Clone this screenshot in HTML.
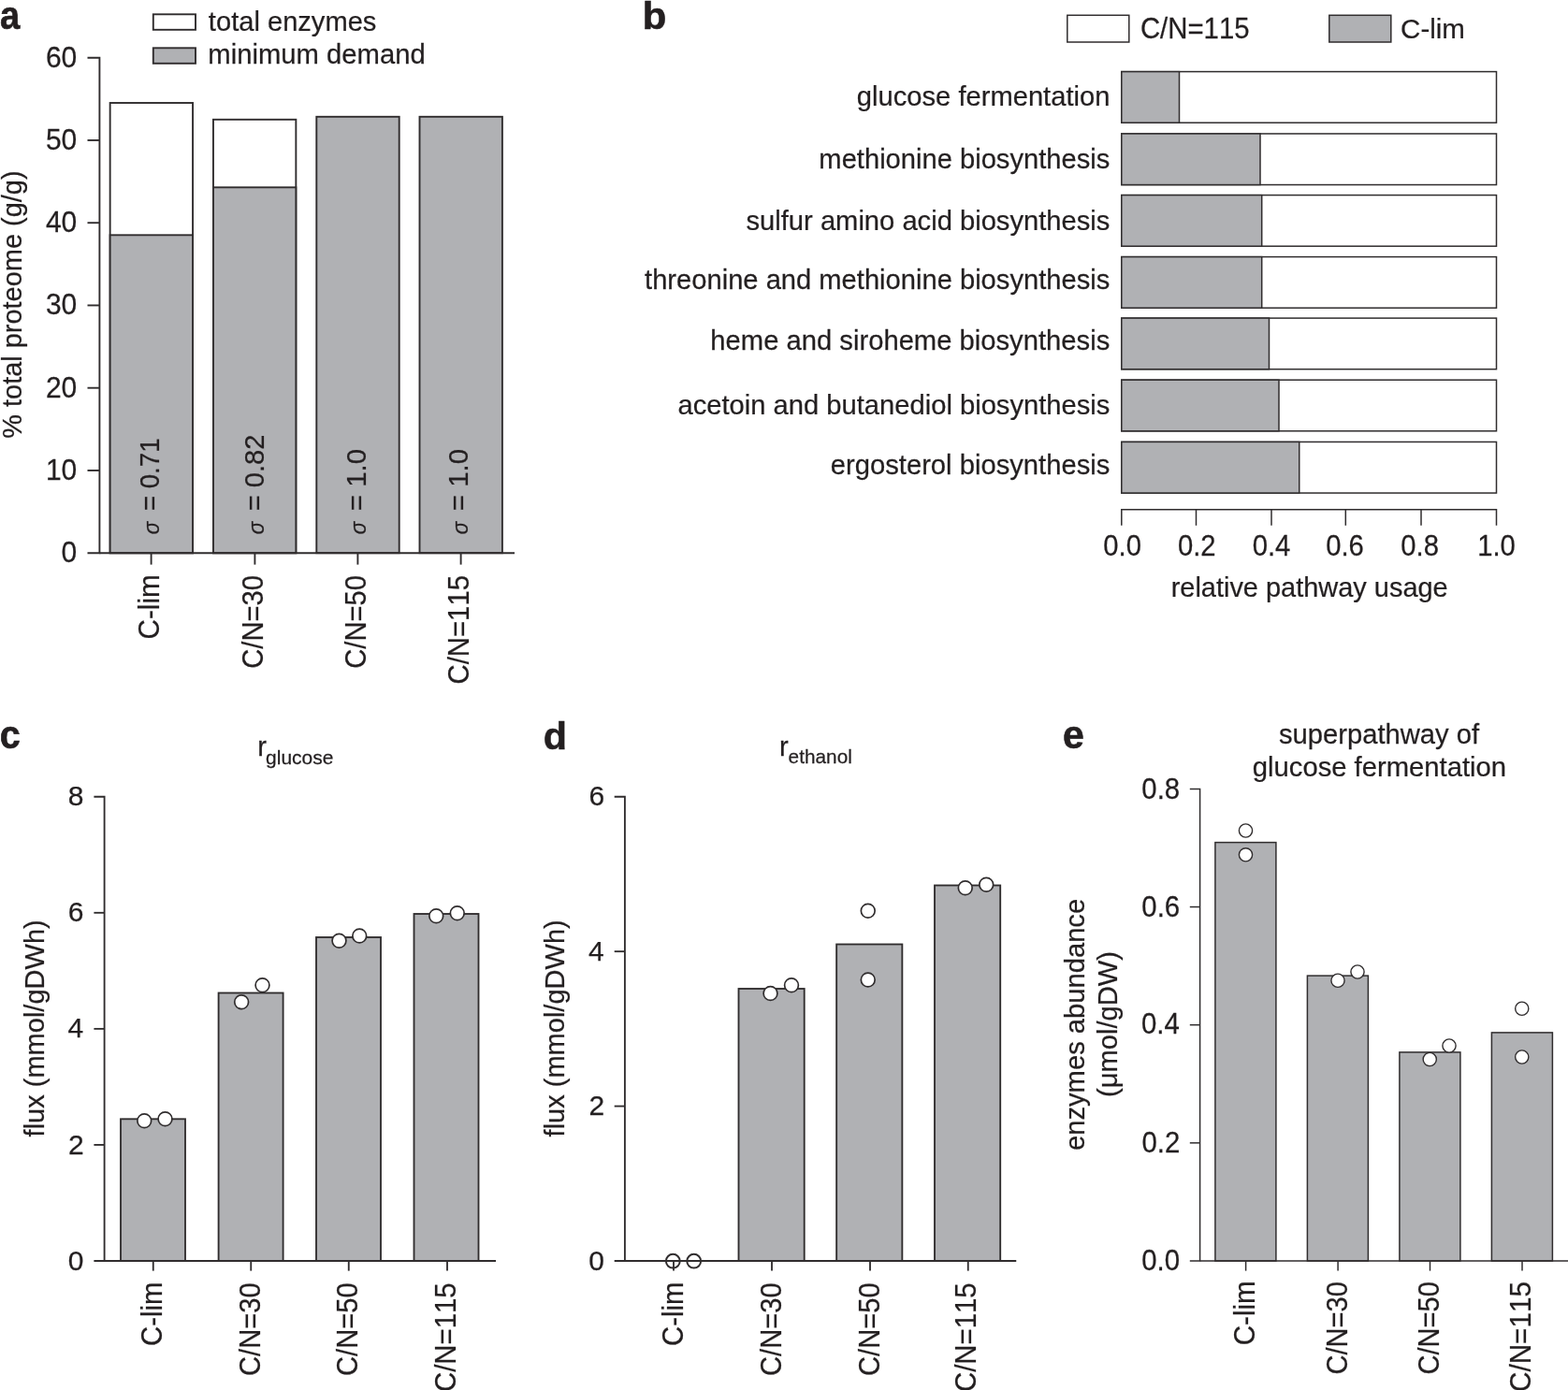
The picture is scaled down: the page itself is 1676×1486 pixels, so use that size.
<!DOCTYPE html>
<html lang="en"><head><meta charset="utf-8"><title>Figure</title>
<style>
html,body{margin:0;padding:0;background:#fff;}
body{width:1676px;height:1486px;overflow:hidden;}
svg{display:block;}
text{font-family:"Liberation Sans",sans-serif;font-kerning:none;white-space:pre;stroke:#231f20;stroke-width:0.25px;}
</style></head><body>
<svg width="1676" height="1486" viewBox="0 0 1676 1486">
<rect x="0" y="0" width="1676" height="1486" fill="#ffffff"/>
<text transform="translate(-0.02,31.15) scale(0.9332,1.0300)" font-size="41" font-weight="bold" fill="#231f20" style="stroke-width:0.6px">a</text>
<text transform="translate(686.74,30.80) scale(1.0213,1.0000)" font-size="41" font-weight="bold" fill="#231f20" style="stroke-width:0.6px">b</text>
<text transform="translate(-0.20,800.30) scale(0.9650,1.0320)" font-size="41" font-weight="bold" fill="#231f20" style="stroke-width:0.6px">c</text>
<text transform="translate(580.86,800.90) scale(1.0068,1.0100)" font-size="41" font-weight="bold" fill="#231f20" style="stroke-width:0.6px">d</text>
<text transform="translate(1135.95,800.30) scale(1.0000,1.0240)" font-size="41" font-weight="bold" fill="#231f20" style="stroke-width:0.6px">e</text>
<rect x="117.65" y="110.00" width="88.40" height="481.20" fill="#fff" stroke="#302d2e" stroke-width="1.9"/>
<rect x="117.65" y="251.30" width="88.40" height="339.90" fill="#b0b1b4" stroke="#302d2e" stroke-width="1.9"/>
<rect x="227.95" y="127.80" width="88.40" height="463.40" fill="#fff" stroke="#302d2e" stroke-width="1.9"/>
<rect x="227.95" y="200.30" width="88.40" height="390.90" fill="#b0b1b4" stroke="#302d2e" stroke-width="1.9"/>
<rect x="338.30" y="124.80" width="88.40" height="466.40" fill="#b0b1b4" stroke="#302d2e" stroke-width="1.9"/>
<rect x="448.50" y="124.80" width="88.40" height="466.40" fill="#b0b1b4" stroke="#302d2e" stroke-width="1.9"/>
<path d="M93.50 61.70 H106.40 V591.20 H93.50" fill="none" stroke="#302d2e" stroke-width="1.9" stroke-linejoin="miter"/>
<line x1="106.40" y1="591.20" x2="550.00" y2="591.20" stroke="#302d2e" stroke-width="1.9" stroke-linecap="butt"/>
<line x1="93.50" y1="502.95" x2="106.40" y2="502.95" stroke="#302d2e" stroke-width="1.9" stroke-linecap="butt"/>
<line x1="93.50" y1="414.70" x2="106.40" y2="414.70" stroke="#302d2e" stroke-width="1.9" stroke-linecap="butt"/>
<line x1="93.50" y1="326.45" x2="106.40" y2="326.45" stroke="#302d2e" stroke-width="1.9" stroke-linecap="butt"/>
<line x1="93.50" y1="238.20" x2="106.40" y2="238.20" stroke="#302d2e" stroke-width="1.9" stroke-linecap="butt"/>
<line x1="93.50" y1="149.95" x2="106.40" y2="149.95" stroke="#302d2e" stroke-width="1.9" stroke-linecap="butt"/>
<text transform="translate(65.59,601.10) scale(1.0000,1.0150)" font-size="30" fill="#231f20">0</text>
<text transform="translate(48.90,512.85) scale(1.0000,1.0150)" font-size="30" fill="#231f20">10</text>
<text transform="translate(48.90,424.60) scale(1.0000,1.0150)" font-size="30" fill="#231f20">20</text>
<text transform="translate(48.90,336.35) scale(1.0000,1.0150)" font-size="30" fill="#231f20">30</text>
<text transform="translate(48.90,248.10) scale(1.0000,1.0150)" font-size="30" fill="#231f20">40</text>
<text transform="translate(48.90,159.85) scale(1.0000,1.0150)" font-size="30" fill="#231f20">50</text>
<text transform="translate(48.90,71.60) scale(1.0000,1.0150)" font-size="30" fill="#231f20">60</text>
<line x1="161.60" y1="591.20" x2="161.60" y2="603.60" stroke="#302d2e" stroke-width="1.9" stroke-linecap="butt"/>
<line x1="272.40" y1="591.20" x2="272.40" y2="603.60" stroke="#302d2e" stroke-width="1.9" stroke-linecap="butt"/>
<line x1="382.40" y1="591.20" x2="382.40" y2="603.60" stroke="#302d2e" stroke-width="1.9" stroke-linecap="butt"/>
<line x1="492.60" y1="591.20" x2="492.60" y2="603.60" stroke="#302d2e" stroke-width="1.9" stroke-linecap="butt"/>
<text transform="translate(170.40,683.51) rotate(-90) scale(0.9899,1.0300)" font-size="30" fill="#231f20">C-lim</text>
<text transform="translate(281.20,714.78) rotate(-90) scale(0.9724,1.0300)" font-size="30" fill="#231f20">C/N=30</text>
<text transform="translate(391.20,714.78) rotate(-90) scale(0.9724,1.0300)" font-size="30" fill="#231f20">C/N=50</text>
<text transform="translate(501.40,731.49) rotate(-90) scale(0.9772,1.0300)" font-size="30" fill="#231f20">C/N=115</text>
<text transform="translate(169.70,571.24) rotate(-90) scale(0.9289,1.0000)" font-size="24" font-style="italic" fill="#231f20">σ</text>
<text transform="translate(169.70,546.10) rotate(-90) scale(0.9217,0.9600)" font-size="30" fill="#231f20">= 0.71</text>
<text transform="translate(281.60,571.24) rotate(-90) scale(0.9289,1.0000)" font-size="24" font-style="italic" fill="#231f20">σ</text>
<text transform="translate(281.60,546.17) rotate(-90) scale(0.9690,0.9600)" font-size="30" fill="#231f20">= 0.82</text>
<text transform="translate(391.40,571.24) rotate(-90) scale(0.9289,1.0000)" font-size="24" font-style="italic" fill="#231f20">σ</text>
<text transform="translate(391.40,546.19) rotate(-90) scale(0.9819,0.9600)" font-size="30" fill="#231f20">= 1.0</text>
<text transform="translate(499.50,571.24) rotate(-90) scale(0.9289,1.0000)" font-size="24" font-style="italic" fill="#231f20">σ</text>
<text transform="translate(499.50,546.19) rotate(-90) scale(0.9819,0.9600)" font-size="30" fill="#231f20">= 1.0</text>
<text transform="translate(23.20,468.73) rotate(-90) scale(0.9647,1.0000)" font-size="30" fill="#231f20">% total proteome (g/g)</text>
<rect x="163.80" y="15.30" width="45.20" height="16.50" fill="#fff" stroke="#302d2e" stroke-width="1.9"/>
<rect x="163.80" y="51.30" width="45.20" height="16.50" fill="#b0b1b4" stroke="#302d2e" stroke-width="1.9"/>
<text transform="translate(222.86,32.50) scale(0.9703,1.0000)" font-size="30" fill="#231f20">total enzymes</text>
<text transform="translate(222.36,68.30) scale(0.9749,1.0000)" font-size="30" fill="#231f20">minimum demand</text>
<rect x="1198.80" y="76.60" width="400.70" height="54.60" fill="#fff" stroke="#302d2e" stroke-width="1.5"/>
<rect x="1198.80" y="76.60" width="61.70" height="54.60" fill="#b0b1b4" stroke="#302d2e" stroke-width="1.5"/>
<rect x="1198.80" y="142.95" width="400.70" height="54.60" fill="#fff" stroke="#302d2e" stroke-width="1.5"/>
<rect x="1198.80" y="142.95" width="148.20" height="54.60" fill="#b0b1b4" stroke="#302d2e" stroke-width="1.5"/>
<rect x="1198.80" y="208.60" width="400.70" height="54.60" fill="#fff" stroke="#302d2e" stroke-width="1.5"/>
<rect x="1198.80" y="208.60" width="149.90" height="54.60" fill="#b0b1b4" stroke="#302d2e" stroke-width="1.5"/>
<rect x="1198.80" y="274.60" width="400.70" height="54.60" fill="#fff" stroke="#302d2e" stroke-width="1.5"/>
<rect x="1198.80" y="274.60" width="149.90" height="54.60" fill="#b0b1b4" stroke="#302d2e" stroke-width="1.5"/>
<rect x="1198.80" y="340.10" width="400.70" height="54.60" fill="#fff" stroke="#302d2e" stroke-width="1.5"/>
<rect x="1198.80" y="340.10" width="157.70" height="54.60" fill="#b0b1b4" stroke="#302d2e" stroke-width="1.5"/>
<rect x="1198.80" y="406.20" width="400.70" height="54.60" fill="#fff" stroke="#302d2e" stroke-width="1.5"/>
<rect x="1198.80" y="406.20" width="168.20" height="54.60" fill="#b0b1b4" stroke="#302d2e" stroke-width="1.5"/>
<rect x="1198.80" y="472.45" width="400.70" height="54.60" fill="#fff" stroke="#302d2e" stroke-width="1.5"/>
<rect x="1198.80" y="472.45" width="189.95" height="54.60" fill="#b0b1b4" stroke="#302d2e" stroke-width="1.5"/>
<text transform="translate(915.78,112.70) scale(0.9721,1.0000)" font-size="30" fill="#231f20">glucose fermentation</text>
<text transform="translate(875.36,179.50) scale(0.9716,1.0000)" font-size="30" fill="#231f20">methionine biosynthesis</text>
<text transform="translate(797.49,245.50) scale(0.9719,1.0000)" font-size="30" fill="#231f20">sulfur amino acid biosynthesis</text>
<text transform="translate(689.06,308.50) scale(0.9715,1.0000)" font-size="30" fill="#231f20">threonine and methionine biosynthesis</text>
<text transform="translate(759.37,373.75) scale(0.9738,1.0000)" font-size="30" fill="#231f20">heme and siroheme biosynthesis</text>
<text transform="translate(724.46,443.20) scale(0.9719,1.0000)" font-size="30" fill="#231f20">acetoin and butanediol biosynthesis</text>
<text transform="translate(887.76,507.40) scale(0.9735,1.0000)" font-size="30" fill="#231f20">ergosterol biosynthesis</text>
<path d="M1198.80 561.80 V544.80 H1599.50 V561.80" fill="none" stroke="#302d2e" stroke-width="1.5" stroke-linejoin="miter"/>
<line x1="1278.50" y1="544.80" x2="1278.50" y2="561.80" stroke="#302d2e" stroke-width="1.5" stroke-linecap="butt"/>
<line x1="1359.00" y1="544.80" x2="1359.00" y2="561.80" stroke="#302d2e" stroke-width="1.5" stroke-linecap="butt"/>
<line x1="1438.30" y1="544.80" x2="1438.30" y2="561.80" stroke="#302d2e" stroke-width="1.5" stroke-linecap="butt"/>
<line x1="1519.00" y1="544.80" x2="1519.00" y2="561.80" stroke="#302d2e" stroke-width="1.5" stroke-linecap="butt"/>
<text transform="translate(1179.27,594.40) scale(0.9750,1.0300)" font-size="30" fill="#231f20">0.0</text>
<text transform="translate(1258.93,594.40) scale(0.9750,1.0300)" font-size="30" fill="#231f20">0.2</text>
<text transform="translate(1338.63,594.40) scale(0.9750,1.0300)" font-size="30" fill="#231f20">0.4</text>
<text transform="translate(1417.14,594.40) scale(0.9750,1.0300)" font-size="30" fill="#231f20">0.6</text>
<text transform="translate(1497.33,594.40) scale(0.9750,1.0300)" font-size="30" fill="#231f20">0.8</text>
<text transform="translate(1579.13,594.40) scale(0.9750,1.0300)" font-size="30" fill="#231f20">1.0</text>
<text transform="translate(1251.68,637.50) scale(0.9650,1.0000)" font-size="30" fill="#231f20">relative pathway usage</text>
<rect x="1140.80" y="16.30" width="66.00" height="28.70" fill="#fff" stroke="#302d2e" stroke-width="1.5"/>
<rect x="1420.80" y="16.30" width="66.00" height="28.70" fill="#b0b1b4" stroke="#302d2e" stroke-width="1.5"/>
<text transform="translate(1218.91,41.10) scale(0.9781,1.0300)" font-size="30" fill="#231f20">C/N=115</text>
<text transform="translate(1497.10,41.10) scale(0.9838,1.0000)" font-size="30" fill="#231f20">C-lim</text>
<rect x="129.00" y="1196.30" width="69.00" height="151.70" fill="#b0b1b4" stroke="#302d2e" stroke-width="1.85"/>
<rect x="233.60" y="1061.50" width="69.00" height="286.50" fill="#b0b1b4" stroke="#302d2e" stroke-width="1.85"/>
<rect x="338.00" y="1002.00" width="69.00" height="346.00" fill="#b0b1b4" stroke="#302d2e" stroke-width="1.85"/>
<rect x="442.50" y="977.00" width="69.00" height="371.00" fill="#b0b1b4" stroke="#302d2e" stroke-width="1.85"/>
<path d="M100.40 851.75 H111.60 V1348.00 H100.40" fill="none" stroke="#302d2e" stroke-width="1.85" stroke-linejoin="miter"/>
<line x1="111.60" y1="1348.00" x2="530.00" y2="1348.00" stroke="#302d2e" stroke-width="1.85" stroke-linecap="butt"/>
<text transform="translate(72.82,861.35) scale(1.0000,1.0000)" font-size="30" fill="#231f20">8</text>
<line x1="100.40" y1="975.81" x2="111.60" y2="975.81" stroke="#302d2e" stroke-width="1.85" stroke-linecap="butt"/>
<text transform="translate(72.83,985.41) scale(1.0000,1.0000)" font-size="30" fill="#231f20">6</text>
<line x1="100.40" y1="1099.88" x2="111.60" y2="1099.88" stroke="#302d2e" stroke-width="1.85" stroke-linecap="butt"/>
<text transform="translate(72.39,1109.47) scale(1.0000,1.0000)" font-size="30" fill="#231f20">4</text>
<line x1="100.40" y1="1223.94" x2="111.60" y2="1223.94" stroke="#302d2e" stroke-width="1.85" stroke-linecap="butt"/>
<text transform="translate(73.02,1233.54) scale(1.0000,1.0000)" font-size="30" fill="#231f20">2</text>
<text transform="translate(72.69,1357.60) scale(1.0000,1.0000)" font-size="30" fill="#231f20">0</text>
<line x1="163.75" y1="1348.00" x2="163.75" y2="1358.60" stroke="#302d2e" stroke-width="1.85" stroke-linecap="butt"/>
<line x1="268.25" y1="1348.00" x2="268.25" y2="1358.60" stroke="#302d2e" stroke-width="1.85" stroke-linecap="butt"/>
<line x1="372.75" y1="1348.00" x2="372.75" y2="1358.60" stroke="#302d2e" stroke-width="1.85" stroke-linecap="butt"/>
<line x1="478.00" y1="1348.00" x2="478.00" y2="1358.60" stroke="#302d2e" stroke-width="1.85" stroke-linecap="butt"/>
<circle cx="154.25" cy="1198.25" r="7.4" fill="#fff" stroke="#302d2e" stroke-width="1.7"/>
<circle cx="176.50" cy="1196.25" r="7.4" fill="#fff" stroke="#302d2e" stroke-width="1.7"/>
<circle cx="258.15" cy="1071.25" r="7.4" fill="#fff" stroke="#302d2e" stroke-width="1.7"/>
<circle cx="280.50" cy="1053.25" r="7.4" fill="#fff" stroke="#302d2e" stroke-width="1.7"/>
<circle cx="362.50" cy="1005.75" r="7.4" fill="#fff" stroke="#302d2e" stroke-width="1.7"/>
<circle cx="384.25" cy="1000.50" r="7.4" fill="#fff" stroke="#302d2e" stroke-width="1.7"/>
<circle cx="466.25" cy="979.25" r="7.4" fill="#fff" stroke="#302d2e" stroke-width="1.7"/>
<circle cx="488.75" cy="976.25" r="7.4" fill="#fff" stroke="#302d2e" stroke-width="1.7"/>
<text transform="translate(173.10,1438.99) rotate(-90) scale(0.9778,1.0300)" font-size="30" fill="#231f20">C-lim</text>
<text transform="translate(277.70,1470.98) rotate(-90) scale(0.9714,1.0300)" font-size="30" fill="#231f20">C/N=30</text>
<text transform="translate(381.50,1470.98) rotate(-90) scale(0.9714,1.0300)" font-size="30" fill="#231f20">C/N=50</text>
<text transform="translate(486.50,1487.99) rotate(-90) scale(0.9789,1.0300)" font-size="30" fill="#231f20">C/N=115</text>
<text transform="translate(47.00,1215.41) rotate(-90) scale(0.9675,1.0000)" font-size="30" fill="#231f20">flux (mmol/gDWh)</text>
<text transform="translate(275.26,807.80) scale(0.9730,1.0000)" font-size="30" fill="#231f20">r</text>
<text transform="translate(284.12,816.60) scale(0.9990,1.0000)" font-size="21" fill="#231f20">glucose</text>
<rect x="789.50" y="1057.00" width="70.20" height="291.00" fill="#b0b1b4" stroke="#302d2e" stroke-width="1.85"/>
<rect x="894.15" y="1009.50" width="70.20" height="338.50" fill="#b0b1b4" stroke="#302d2e" stroke-width="1.85"/>
<rect x="999.00" y="946.50" width="70.20" height="401.50" fill="#b0b1b4" stroke="#302d2e" stroke-width="1.85"/>
<path d="M656.70 851.75 H667.90 V1348.00 H656.70" fill="none" stroke="#302d2e" stroke-width="1.85" stroke-linejoin="miter"/>
<line x1="667.90" y1="1348.00" x2="1086.25" y2="1348.00" stroke="#302d2e" stroke-width="1.85" stroke-linecap="butt"/>
<text transform="translate(629.43,861.35) scale(1.0000,1.0000)" font-size="30" fill="#231f20">6</text>
<line x1="656.70" y1="1017.17" x2="667.90" y2="1017.17" stroke="#302d2e" stroke-width="1.85" stroke-linecap="butt"/>
<text transform="translate(628.99,1026.77) scale(1.0000,1.0000)" font-size="30" fill="#231f20">4</text>
<line x1="656.70" y1="1182.58" x2="667.90" y2="1182.58" stroke="#302d2e" stroke-width="1.85" stroke-linecap="butt"/>
<text transform="translate(629.62,1192.18) scale(1.0000,1.0000)" font-size="30" fill="#231f20">2</text>
<text transform="translate(629.29,1357.60) scale(1.0000,1.0000)" font-size="30" fill="#231f20">0</text>
<line x1="720.00" y1="1348.00" x2="720.00" y2="1358.60" stroke="#302d2e" stroke-width="1.85" stroke-linecap="butt"/>
<line x1="825.00" y1="1348.00" x2="825.00" y2="1358.60" stroke="#302d2e" stroke-width="1.85" stroke-linecap="butt"/>
<line x1="930.00" y1="1348.00" x2="930.00" y2="1358.60" stroke="#302d2e" stroke-width="1.85" stroke-linecap="butt"/>
<line x1="1034.75" y1="1348.00" x2="1034.75" y2="1358.60" stroke="#302d2e" stroke-width="1.85" stroke-linecap="butt"/>
<circle cx="823.50" cy="1062.00" r="7.4" fill="#fff" stroke="#302d2e" stroke-width="1.7"/>
<circle cx="846.00" cy="1053.25" r="7.4" fill="#fff" stroke="#302d2e" stroke-width="1.7"/>
<circle cx="927.75" cy="973.75" r="7.4" fill="#fff" stroke="#302d2e" stroke-width="1.7"/>
<circle cx="927.75" cy="1047.50" r="7.4" fill="#fff" stroke="#302d2e" stroke-width="1.7"/>
<circle cx="1031.75" cy="949.25" r="7.4" fill="#fff" stroke="#302d2e" stroke-width="1.7"/>
<circle cx="1054.25" cy="945.75" r="7.4" fill="#fff" stroke="#302d2e" stroke-width="1.7"/>
<text transform="translate(729.50,1438.99) rotate(-90) scale(0.9778,1.0300)" font-size="30" fill="#231f20">C-lim</text>
<text transform="translate(834.50,1470.98) rotate(-90) scale(0.9714,1.0300)" font-size="30" fill="#231f20">C/N=30</text>
<text transform="translate(939.80,1470.98) rotate(-90) scale(0.9714,1.0300)" font-size="30" fill="#231f20">C/N=50</text>
<text transform="translate(1043.25,1487.99) rotate(-90) scale(0.9789,1.0300)" font-size="30" fill="#231f20">C/N=115</text>
<circle cx="719.30" cy="1348.20" r="7.4" fill="none" stroke="#302d2e" stroke-width="2"/>
<circle cx="741.70" cy="1348.20" r="7.4" fill="none" stroke="#302d2e" stroke-width="2"/>
<text transform="translate(603.25,1215.41) rotate(-90) scale(0.9675,1.0000)" font-size="30" fill="#231f20">flux (mmol/gDWh)</text>
<text transform="translate(832.96,808.20) scale(0.9730,1.0000)" font-size="30" fill="#231f20">r</text>
<text transform="translate(842.62,815.90) scale(0.9910,1.0000)" font-size="21" fill="#231f20">ethanol</text>
<rect x="1298.90" y="900.60" width="65.00" height="447.40" fill="#b0b1b4" stroke="#302d2e" stroke-width="1.5"/>
<rect x="1397.40" y="1043.10" width="65.00" height="304.90" fill="#b0b1b4" stroke="#302d2e" stroke-width="1.5"/>
<rect x="1495.90" y="1124.90" width="65.00" height="223.10" fill="#b0b1b4" stroke="#302d2e" stroke-width="1.5"/>
<rect x="1594.40" y="1103.90" width="65.00" height="244.10" fill="#b0b1b4" stroke="#302d2e" stroke-width="1.5"/>
<path d="M1271.80 843.40 H1282.60 V1348.00 H1271.80" fill="none" stroke="#302d2e" stroke-width="1.5" stroke-linejoin="miter"/>
<line x1="1282.60" y1="1348.00" x2="1676.00" y2="1348.00" stroke="#302d2e" stroke-width="1.5" stroke-linecap="butt"/>
<text transform="translate(1220.31,854.30) scale(0.9800,1.0300)" font-size="30" fill="#231f20">0.8</text>
<line x1="1271.80" y1="969.55" x2="1282.60" y2="969.55" stroke="#302d2e" stroke-width="1.5" stroke-linecap="butt"/>
<text transform="translate(1220.32,979.90) scale(0.9800,1.0300)" font-size="30" fill="#231f20">0.6</text>
<line x1="1271.80" y1="1095.70" x2="1282.60" y2="1095.70" stroke="#302d2e" stroke-width="1.5" stroke-linecap="butt"/>
<text transform="translate(1219.89,1105.40) scale(0.9800,1.0300)" font-size="30" fill="#231f20">0.4</text>
<line x1="1271.80" y1="1221.85" x2="1282.60" y2="1221.85" stroke="#302d2e" stroke-width="1.5" stroke-linecap="butt"/>
<text transform="translate(1220.51,1231.60) scale(0.9800,1.0300)" font-size="30" fill="#231f20">0.2</text>
<text transform="translate(1220.18,1357.80) scale(0.9800,1.0300)" font-size="30" fill="#231f20">0.0</text>
<line x1="1331.60" y1="1348.00" x2="1331.60" y2="1358.60" stroke="#302d2e" stroke-width="1.5" stroke-linecap="butt"/>
<line x1="1430.10" y1="1348.00" x2="1430.10" y2="1358.60" stroke="#302d2e" stroke-width="1.5" stroke-linecap="butt"/>
<line x1="1528.50" y1="1348.00" x2="1528.50" y2="1358.60" stroke="#302d2e" stroke-width="1.5" stroke-linecap="butt"/>
<line x1="1627.00" y1="1348.00" x2="1627.00" y2="1358.60" stroke="#302d2e" stroke-width="1.5" stroke-linecap="butt"/>
<circle cx="1331.50" cy="888.00" r="7.1" fill="#fff" stroke="#302d2e" stroke-width="1.4"/>
<circle cx="1331.50" cy="913.80" r="7.1" fill="#fff" stroke="#302d2e" stroke-width="1.4"/>
<circle cx="1430.00" cy="1048.25" r="7.1" fill="#fff" stroke="#302d2e" stroke-width="1.4"/>
<circle cx="1451.00" cy="1039.00" r="7.1" fill="#fff" stroke="#302d2e" stroke-width="1.4"/>
<circle cx="1528.25" cy="1132.50" r="7.1" fill="#fff" stroke="#302d2e" stroke-width="1.4"/>
<circle cx="1549.00" cy="1118.00" r="7.1" fill="#fff" stroke="#302d2e" stroke-width="1.4"/>
<circle cx="1626.75" cy="1078.25" r="7.1" fill="#fff" stroke="#302d2e" stroke-width="1.4"/>
<circle cx="1626.75" cy="1130.00" r="7.1" fill="#fff" stroke="#302d2e" stroke-width="1.4"/>
<text transform="translate(1341.30,1438.25) rotate(-90) scale(0.9846,1.0300)" font-size="30" fill="#231f20">C-lim</text>
<text transform="translate(1439.90,1469.48) rotate(-90) scale(0.9684,1.0300)" font-size="30" fill="#231f20">C/N=30</text>
<text transform="translate(1538.00,1469.48) rotate(-90) scale(0.9684,1.0300)" font-size="30" fill="#231f20">C/N=50</text>
<text transform="translate(1636.00,1488.01) rotate(-90) scale(0.9892,1.0300)" font-size="30" fill="#231f20">C/N=115</text>
<text transform="translate(1159.10,1229.99) rotate(-90) scale(0.9727,1.0000)" font-size="30" fill="#231f20">enzymes abundance</text>
<text transform="translate(1194.00,1173.06) rotate(-90) scale(0.9721,1.0000)" font-size="30" fill="#231f20">(μmol/gDW)</text>
<text transform="translate(1366.99,794.50) scale(0.9731,1.0000)" font-size="30" fill="#231f20">superpathway of</text>
<text transform="translate(1338.77,829.50) scale(0.9744,1.0000)" font-size="30" fill="#231f20">glucose fermentation</text>
</svg>
</body></html>
